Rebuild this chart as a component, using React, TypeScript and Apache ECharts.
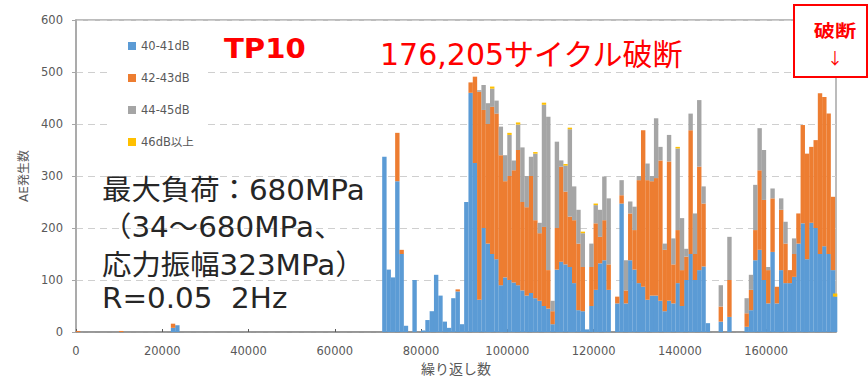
import React, { useEffect, useRef } from "react";
import * as echarts from "echarts";

// bin positions (cycles)
const cycles = [
  500, 10500, 22500, 23500,
  71500, 72500, 73500, 74500, 75500, 76500, 78500,
  80500, 81500, 82500, 83500, 84500, 85500, 86500, 87500, 88500, 89500,
  90500, 91500, 92500, 93500, 94500, 95500, 96500, 97500, 98500, 99500,
  100500, 101500, 102500, 103500, 104500, 105500, 106500, 107500, 108500, 109500,
  110500, 111500, 112500, 113500, 114500, 115500, 116500, 117500, 118500, 119500,
  120500, 121500, 122500, 123500, 125500, 126500, 127500, 128500, 129500,
  130500, 131500, 132500, 133500, 134500, 135500, 136500, 137500, 138500, 139500,
  140500, 141500, 142500, 143500, 144500, 145500, 146500, 149500, 151500,
  155500, 156500, 157500, 158500, 159500,
  160500, 161500, 162500, 163500, 164500, 165500, 166500, 167500, 168500, 169500,
  170500, 171500, 172500, 173500, 174500, 175500, 176000,
];

const db40_41 = [
  0, 0, 8, 13,
  337, 120, 105, 290, 150, 12, 100,
  3, 23, 40, 110, 70, 20, 8, 65, 78, 15,
  250, 460, 325, 62, 200, 170, 150, 140, 90, 105,
  100, 95, 90, 80, 70, 75, 65, 60, 50, 45,
  15, 120, 135, 130, 125, 94, 42, 40, 5, 50,
  81, 132, 138, 81, 55, 247, 55, 138, 120,
  94, 87, 62, 70, 70, 60, 40, 60, 55, 94,
  50, 100, 150, 100, 119, 126, 17, 20, 29,
  10, 42, 138, 158, 100,
  55, 154, 55, 119, 94, 94, 106, 170, 209, 140,
  210, 200, 150, 165, 150, 119, 68,
];

const db42_43 = [
  2, 2, 8, 0,
  0, 0, 0, 93, 8, 0, 0,
  0, 0, 0, 0, 0, 0, 0, 0, 4, 0,
  0, 20, 166, 400, 227, 230, 283, 280, 250, 185,
  200, 216, 260, 170, 170, 225, 150, 130, 152, 74,
  25, 80, 183, 140, 97, 121, 128, 85, 0, 75,
  128, 51, 77, 49, 13, 16, 25, 90, 76,
  198, 301, 230, 220, 226, 270, 118, 268, 75, 102,
  69, 45, 238, 50, 199, 121, 0, 29, 71,
  26, 39, 58, 153, 154,
  64, 103, 32, 116, 76, 25, 44, 58, 189, 203,
  146, 169, 309, 287, 270, 141, 0,
];

const db44_45 = [
  0, 0, 0, 0,
  0, 0, 0, 0, 0, 0, 0,
  0, 0, 0, 0, 0, 0, 0, 0, 0, 0,
  0, 0, 0, 3, 48, 40, 35, 25, 55, 50,
  79, 19, 49, 105, 60, 37, 128, 20, 235, 295,
  20, 166, 12, 50, 168, 65, 65, 65, 0, 45,
  35, 52, 84, 127, 0, 29, 58, 23, 45,
  8, 0, 32, 10, 115, 26, 12, 51, 50, 157,
  100, 15, 32, 78, 128, 33, 0, 41, 83,
  29, 29, 87, 81, 96,
  6, 19, 0, 22, 42, 0, 30, 0, 0, 0,
  0, 0, 0, 0, 0, 0, 0,
];

const db46plus = [
  0, 0, 0, 0,
  0, 0, 0, 0, 0, 0, 0,
  0, 0, 0, 0, 0, 0, 0, 0, 0, 0,
  0, 0, 0, 0, 0, 0, 4, 0, 0, 0,
  4, 0, 4, 0, 0, 0, 3, 0, 4, 0,
  0, 0, 0, 3, 3, 0, 0, 3, 0, 0,
  3, 0, 0, 0, 0, 0, 0, 0, 0,
  0, 0, 0, 0, 0, 0, 0, 0, 0, 3,
  0, 0, 0, 0, 0, 0, 0, 0, 0,
  0, 0, 0, 0, 0,
  0, 0, 0, 0, 0, 0, 0, 0, 0, 0,
  0, 0, 0, 0, 0, 0, 6,
];

const seriesNames = ["40-41dB", "42-43dB", "44-45dB", "46dB以上"];
const seriesColors = ["#5B9BD5", "#ED7D31", "#A5A5A5", "#FFC000"];
const xTickLabels = [0, 20000, 40000, 60000, 80000, 100000, 120000, 140000, 160000];
const yTickLabels = [0, 100, 200, 300, 400, 500, 600];
const noteLines = ["最大負荷：680MPa", "（34～680MPa、", "応力振幅323MPa）", "R=0.05  2Hz"];

const FONT = '"DejaVu Sans", "Noto Sans CJK JP", sans-serif';
const CJK = '"Noto Sans CJK JP", "DejaVu Sans", sans-serif';

export default function App() {
  const ref = useRef<HTMLDivElement>(null);

  useEffect(() => {
    if (!ref.current) return;
    const chart = echarts.init(ref.current, null, { renderer: "svg" });
    const allSeries = [db40_41, db42_43, db44_45, db46plus];
    const noteY = [190, 227, 265, 298];

    chart.setOption({
      animation: false,
      backgroundColor: "#ffffff",
      textStyle: { fontFamily: FONT },
      grid: {
        left: 76,
        right: 32,
        top: 20,
        bottom: 52,
        show: true,
        borderColor: "#a6a6a6",
        borderWidth: 1.5,
        backgroundColor: "transparent",
      },
      legend: {
        orient: "vertical",
        left: 110,
        top: 31,
        backgroundColor: "#ffffff",
        padding: [8, 14, 8, 18],
        itemWidth: 8,
        itemHeight: 8,
        itemGap: 18,
        icon: "rect",
        textStyle: { fontSize: 11.5, color: "#595959", fontFamily: FONT, lineHeight: 14 },
        data: seriesNames,
      },
      xAxis: {
        type: "value",
        min: 0,
        max: 176205,
        interval: 20000,
        name: "繰り返し数",
        nameLocation: "middle",
        nameGap: 29,
        nameTextStyle: { fontSize: 14, color: "#595959", fontFamily: CJK },
        axisLine: { show: true, lineStyle: { color: "#8a8a8a", width: 1.5 } },
        axisTick: {
          show: true,
          inside: true,
          length: 3,
          customValues: xTickLabels,
          lineStyle: { color: "#595959" },
        },
        splitLine: { show: false },
        axisLabel: {
          customValues: xTickLabels,
          formatter: (v: number) => String(v),
          fontSize: 11.5,
          color: "#595959",
          margin: 13,
          fontFamily: FONT,
        },
      },
      yAxis: {
        type: "value",
        min: 0,
        max: 600,
        interval: 100,
        name: "AE発生数",
        nameLocation: "middle",
        nameGap: 46,
        nameTextStyle: { fontSize: 12, color: "#595959", fontFamily: FONT },
        axisLine: { show: true, lineStyle: { color: "#a6a6a6", width: 1.5 } },
        axisTick: { show: true, length: 4, lineStyle: { color: "#a6a6a6" } },
        splitLine: { show: true, lineStyle: { color: "#cfcfcf", type: [7, 5], width: 1 } },
        axisLabel: {
          customValues: yTickLabels,
          formatter: (v: number) => String(v),
          fontSize: 11.5,
          color: "#595959",
          margin: 13,
          fontFamily: FONT,
        },
      },
      series: seriesNames.map((name, si) => ({
        name,
        type: "bar",
        stack: "ae",
        barWidth: 4.4,
        itemStyle: { color: seriesColors[si] },
        emphasis: { disabled: true },
        encode: { x: 1, y: 0 },
        data: cycles.map((c, i) => [allSeries[si][i], c]),
      })),
      graphic: [
        {
          type: "text",
          x: 224,
          y: 49,
          scaleX: 1.12,
          z: 100,
          style: {
            text: "TP10",
            fill: "#ff0000",
            fontSize: 26,
            fontWeight: "bold",
            fontFamily: FONT,
            align: "left",
            verticalAlign: "middle",
          },
        },
        {
          type: "text",
          x: 380,
          y: 54,
          z: 100,
          style: {
            text: "176,205サイクル破断",
            fill: "#ff0000",
            fontSize: 30,
            fontFamily: FONT,
            align: "left",
            verticalAlign: "middle",
          },
        },
        {
          type: "rect",
          z: 100,
          shape: { x: 794, y: 5, width: 73, height: 72 },
          style: { fill: "#ffffff", stroke: "#ff0000", lineWidth: 2 },
        },
        {
          type: "text",
          x: 835,
          y: 30,
          scaleX: 1.25,
          z: 101,
          style: {
            text: "破断",
            fill: "#ff0000",
            fontSize: 17,
            fontWeight: "bold",
            fontFamily: CJK,
            align: "center",
            verticalAlign: "middle",
          },
        },
        {
          type: "text",
          x: 835,
          y: 57,
          z: 101,
          style: {
            text: "↓",
            fill: "#ff0000",
            fontSize: 16,
            fontFamily: CJK,
            align: "center",
            verticalAlign: "middle",
          },
        },
        ...noteLines.map((t, i) => ({
          type: "text",
          x: 102,
          y: noteY[i],
          scaleX: 1.05,
          z: 100,
          style: {
            text: t,
            fill: "#262626",
            fontSize: 28,
            fontFamily: FONT,
            align: "left",
            verticalAlign: "middle",
          },
        })),
      ],
    });

    return () => chart.dispose();
  }, []);

  return (
    <div
      ref={ref}
      style={{ position: "fixed", left: 0, top: 0, width: 868, height: 384, background: "#fff" }}
    />
  );
}
